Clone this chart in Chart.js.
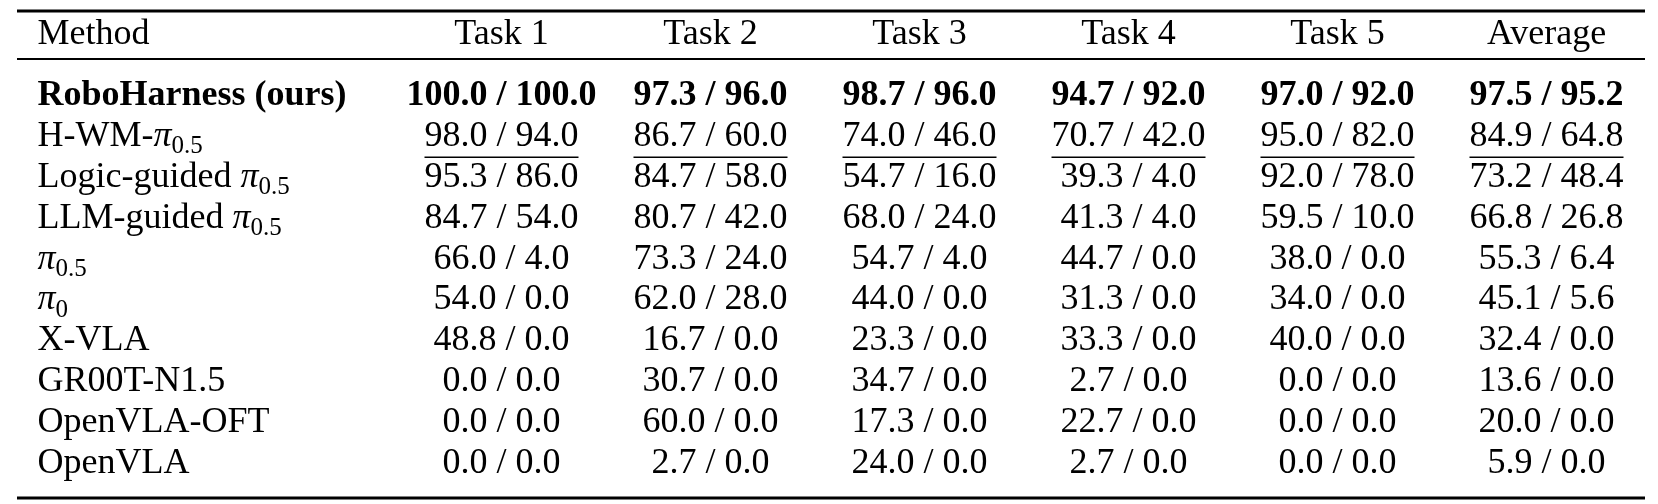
<!DOCTYPE html>
<html><head><meta charset="utf-8">
<script src="https://cdn.jsdelivr.net/npm/chart.js@4/dist/chart.umd.min.js"></script>
<style>html,body{margin:0;background:#fff}#w{width:1658px;height:504px}</style>
</head><body><div id="w"><canvas id="c"></canvas></div>
<script>
const columns = ['Method','Task 1','Task 2','Task 3','Task 4','Task 5','Average'];
const methods = ['RoboHarness (ours)','H-WM-π_0.5','Logic-guided π_0.5','LLM-guided π_0.5','π_0.5','π_0','X-VLA','GR00T-N1.5','OpenVLA-OFT','OpenVLA'];
const task1 = ['100.0 / 100.0','98.0 / 94.0','95.3 / 86.0','84.7 / 54.0','66.0 / 4.0','54.0 / 0.0','48.8 / 0.0','0.0 / 0.0','0.0 / 0.0','0.0 / 0.0'];
const task2 = ['97.3 / 96.0','86.7 / 60.0','84.7 / 58.0','80.7 / 42.0','73.3 / 24.0','62.0 / 28.0','16.7 / 0.0','30.7 / 0.0','60.0 / 0.0','2.7 / 0.0'];
const task3 = ['98.7 / 96.0','74.0 / 46.0','54.7 / 16.0','68.0 / 24.0','54.7 / 4.0','44.0 / 0.0','23.3 / 0.0','34.7 / 0.0','17.3 / 0.0','24.0 / 0.0'];
const task4 = ['94.7 / 92.0','70.7 / 42.0','39.3 / 4.0','41.3 / 4.0','44.7 / 0.0','31.3 / 0.0','33.3 / 0.0','2.7 / 0.0','22.7 / 0.0','2.7 / 0.0'];
const task5 = ['97.0 / 92.0','95.0 / 82.0','92.0 / 78.0','59.5 / 10.0','38.0 / 0.0','34.0 / 0.0','40.0 / 0.0','0.0 / 0.0','0.0 / 0.0','0.0 / 0.0'];
const average = ['97.5 / 95.2','84.9 / 64.8','73.2 / 48.4','66.8 / 26.8','55.3 / 6.4','45.1 / 5.6','32.4 / 0.0','13.6 / 0.0','20.0 / 0.0','5.9 / 0.0'];
const valueCols = [task1,task2,task3,task4,task5,average];
const boldRow = 0, underlineRow = 1;

const points = [];
methods.forEach((m,r)=>columns.forEach(c=>points.push({x:c,y:m})));
const F = '"Liberation Serif", "DejaVu Serif", serif';

function drawRich(ctx, s, x, y, bold, align){
  const segs = [];
  const i = s.indexOf('π');
  if (i < 0) segs.push([s,'n']);
  else {
    if (i>0) segs.push([s.slice(0,i),'n']);
    segs.push(['π','i']);
    segs.push([s.slice(i+1).replace('_',''),'s']);
  }
  const fontOf = t => t==='n' ? (bold?'bold ':'')+'36px '+F : t==='i' ? 'italic 36px '+F : '25px '+F;
  let w = 0; segs.forEach(([t,k])=>{ctx.font=fontOf(k); w+=ctx.measureText(t).width;});
  let cx = align==='center' ? x - w/2 : x;
  ctx.textAlign='left';
  segs.forEach(([t,k])=>{ctx.font=fontOf(k); ctx.fillText(t,cx,k==='s'?y+10:y); cx+=ctx.measureText(t).width;});
  return [x - (align==='center'?w/2:0), w];
}

const tablePlugin = {id:'tbl', afterDraw(chart){
  const ctx = chart.ctx, xs = chart.scales.x, ys = chart.scales.y, ca = chart.chartArea;
  const colW = xs.getPixelForValue(1) - xs.getPixelForValue(0);
  const methodX = xs.getPixelForValue(0) - colW*1.22;
  ctx.save(); ctx.fillStyle='#000'; ctx.strokeStyle='#000'; ctx.textBaseline='middle';
  const headY = ca.top - 40;
  ctx.font='36px '+F;
  columns.forEach((c,j)=>{ctx.textAlign=j===0?'left':'center'; ctx.fillText(c, j===0?methodX:xs.getPixelForValue(j), headY);});
  methods.forEach((m,r)=>{
    const y = ys.getPixelForValue(r);
    drawRich(ctx, m, methodX, y, r===boldRow, 'left');
    valueCols.forEach((col,j)=>{
      const [x0,w] = drawRich(ctx, col[r], xs.getPixelForValue(j+1), y, r===boldRow, 'center');
      if (r===underlineRow){ctx.lineWidth=1.5; ctx.beginPath(); ctx.moveTo(x0,y+21); ctx.lineTo(x0+w,y+21); ctx.stroke();}
    });
  });
  const L = 17, R = 1645;
  ctx.lineWidth=3; ctx.beginPath(); ctx.moveTo(L,11); ctx.lineTo(R,11); ctx.stroke();
  ctx.lineWidth=1.8; ctx.beginPath(); ctx.moveTo(L,59); ctx.lineTo(R,59); ctx.stroke();
  ctx.lineWidth=3; ctx.beginPath(); ctx.moveTo(L,498); ctx.lineTo(R,498); ctx.stroke();
  ctx.restore();
}};

new Chart(document.getElementById('c'), {
  type:'scatter',
  data:{datasets:[{data:points, pointRadius:0, backgroundColor:'transparent'}]},
  options:{responsive:true, maintainAspectRatio:false, animation:false,
    layout:{padding:{left:188, right:7, top:75, bottom:20}},
    plugins:{legend:{display:false}, tooltip:{enabled:false}},
    scales:{
      x:{type:'category', labels:columns, offset:true, display:false},
      y:{type:'category', labels:methods, offset:true, display:false}
    }},
  plugins:[tablePlugin]
});
</script></body></html>
